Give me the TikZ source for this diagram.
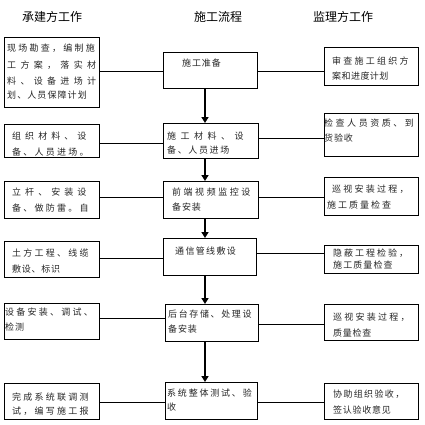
\documentclass[tikz,border=0pt]{standalone}
\usepackage{fontspec}
\newfontfamily\cjk{Noto Sans CJK SC}
\usetikzlibrary{arrows.meta}
\newcommand\ls[2]{{\addfontfeature{LetterSpace=#1}#2}}
\newcommand\bx[5]{\node[box,anchor=north west,minimum width={(#4-#2)*1pt},minimum height={(#5-#3)*1pt}] (#1) at (#2,#3) {};}
\newcommand\tx[4]{\node[txt] (#1) at (#2,#3) {#4};}
\begin{document}
\begin{tikzpicture}[x=1pt,y=-1pt,
  box/.style={draw=black,line width=0.9pt,inner sep=0pt,fill=none},
  txt/.style={anchor=west,inner sep=0pt,font=\cjk\fontsize{9}{9}\selectfont,text=black!85},
  hdr/.style={inner sep=0pt,font=\cjk\fontsize{12}{12}\selectfont,text=black},
  conn/.style={line width=0.9pt},
  arr/.style={line width=2pt,-{Triangle[width=7pt,length=6pt]}}]
\useasboundingbox (0,0) rectangle (425,425);
\fill[white] (0,0) rectangle (425,425);
% headers
\node[hdr] (h1) at (52,17) {承建方工作};
\node[hdr] (h2) at (218,17) {施工流程};
\node[hdr] (h3) at (343,17) {监理方工作};
% boxes
\bx{L1}{4}{37}{99}{107}
\bx{C1}{163}{52}{257}{88}
\bx{R1}{324}{47}{418}{85}
\bx{L2}{4}{124}{99}{157}
\bx{C2}{163}{123}{258}{158}
\bx{R2}{324}{113}{418}{156}
\bx{L3}{4}{181}{99}{218}
\bx{C3}{163}{181}{258}{218}
\bx{R3}{324}{177}{418}{215}
\bx{L4}{4}{241}{99}{277}
\bx{C4}{163}{238}{256}{275}
\bx{R4}{324}{245}{418}{273}
\bx{L5}{4}{303}{99}{339}
\bx{C5}{165}{304}{258}{341}
\bx{R5}{324}{304}{418}{340}
\bx{L6}{4}{383}{99}{419}
\bx{C6}{165}{382}{257}{419}
\bx{R6}{324}{383}{418}{419}
% texts row 1
\tx{tl1a}{7}{48}{\ls{25}{现场勘查，编制施}}
\tx{tl1b}{7}{65}{\ls{48}{工方案，落实材}}
\tx{tl1c}{7}{81}{\ls{48}{料、设备进场计}}
\tx{tl1d}{7}{95}{\ls{12}{划、人员保障计划}}
\tx{tc1}{182}{63}{\ls{10}{施工准备}}
\tx{tr1a}{332}{61}{\ls{25}{审查施工组织方}}
\tx{tr1b}{332}{76}{\ls{5}{案和进度计划}}
% row 2
\tx{tl2a}{12}{136}{\ls{45}{组织材料、设}}
\tx{tl2b}{12}{152}{\ls{25}{备、人员进场。}}
\tx{tc2a}{167}{136}{\ls{50}{施工材料、设}}
\tx{tc2b}{167}{150}{\ls{18}{备、人员进场}}
\tx{tr2a}{324}{123}{\ls{28}{检查人员资质、到}}
\tx{tr2b}{324}{138}{\ls{10}{货验收}}
% row 3
\tx{tl3a}{12}{192}{\ls{45}{立杆、安装设}}
\tx{tl3b}{12}{208}{\ls{25}{备、做防雷。自}}
\tx{tc3a}{172}{192}{\ls{28}{前端视频监控设}}
\tx{tc3b}{172}{207}{\ls{10}{备安装}}
\tx{tr3a}{332}{189}{\ls{25}{巡视安装过程，}}
\tx{tr3b}{327}{205}{\ls{22}{施工质量检查}}
% row 4
\tx{tl4a}{12}{253}{\ls{25}{土方工程、线缆}}
\tx{tl4b}{12}{269}{\ls{8}{敷设、标识}}
\tx{tc4}{175}{251}{\ls{15}{通信管线敷设}}
\tx{tr4a}{333}{253}{\ls{22}{隐蔽工程检验，}}
\tx{tr4b}{333}{265}{\ls{12}{施工质量检查}}
% row 5
\tx{tl5a}{5}{312}{\ls{25}{设备安装、调试、}}
\tx{tl5b}{5}{327}{\ls{10}{检测}}
\tx{tc5a}{168}{314}{\ls{18}{后台存储、处理设}}
\tx{tc5b}{168}{329}{\ls{10}{备安装}}
\tx{tr5a}{333}{317}{\ls{25}{巡视安装过程，}}
\tx{tr5b}{333}{333}{\ls{8}{质量检查}}
% row 6
\tx{tl6a}{12}{397}{\ls{25}{完成系统联调测}}
\tx{tl6b}{12}{411}{\ls{25}{试，编写施工报}}
\tx{tc6a}{167}{393}{\ls{20}{系统整体测试、验}}
\tx{tc6b}{167}{407}{收}
\tx{tr6a}{333}{394}{\ls{15}{协助组织验收，}}
\tx{tr6b}{333}{410}{\ls{8}{签认验收意见}}
% helper coordinates
\coordinate (ax) at (205,0);
\coordinate (y1) at (0,71);
\coordinate (y2l) at (0,143);
\coordinate (y2r) at (0,138);
\coordinate (y3) at (0,197);
\coordinate (y4l) at (0,258);
\coordinate (y4r) at (0,253);
\coordinate (y5l) at (0,318);
\coordinate (y5r) at (0,324);
\coordinate (y6) at (0,402);
% horizontal connectors
\draw[conn] (L1.east |- y1) -- (C1.west |- y1);
\draw[conn] (C1.east |- y1) -- (R1.west |- y1);
\draw[conn] (L2.east |- y2l) -- (C2.west |- y2l);
\draw[conn] (C2.east |- y2r) -- (R2.west |- y2r);
\draw[conn] (L3.east |- y3) -- (C3.west |- y3);
\draw[conn] (C3.east |- y3) -- (R3.west |- y3);
\draw[conn] (L4.east |- y4l) -- (C4.west |- y4l);
\draw[conn] (C4.east |- y4r) -- (R4.west |- y4r);
\draw[conn] (L5.east |- y5l) -- (C5.west |- y5l);
\draw[conn] (C5.east |- y5r) -- (R5.west |- y5r);
\draw[conn] (L6.east |- y6) -- (C6.west |- y6);
\draw[conn] (C6.east |- y6) -- (R6.west |- y6);
% vertical arrows
\draw[arr] (C1.south -| ax) -- (C2.north -| ax);
\draw[arr] (C2.south -| ax) -- (C3.north -| ax);
\draw[arr] (C3.south -| ax) -- (C4.north -| ax);
\draw[arr] (C4.south -| ax) -- (C5.north -| ax);
\draw[arr] (C5.south -| ax) -- (C6.north -| ax);
\end{tikzpicture}
\end{document}
